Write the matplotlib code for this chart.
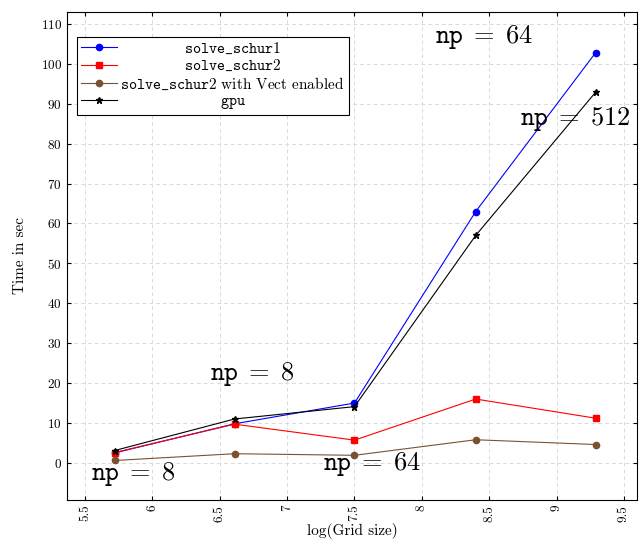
import numpy as np
import matplotlib
matplotlib.use("Agg")
import matplotlib.pyplot as plt

plt.rcParams['font.family'] = 'serif'
plt.rcParams['font.serif'] = ['cmr10']
plt.rcParams['mathtext.fontset'] = 'cm'
plt.rcParams['axes.formatter.use_mathtext'] = True

# data
grid_log = [5.72, 6.61, 7.50, 8.40, 9.29]
schur1 = [2.5, 9.8, 15.0, 63.0, 102.8]
schur2 = [2.6, 9.7, 5.7, 16.0, 11.2]
schur2_vect = [0.6, 2.3, 1.9, 5.8, 4.6]
gpu = [3.1, 11.0, 14.1, 57.0, 92.9]

labels = [r'$\mathtt{solve\_schur1}$',
          r'$\mathtt{solve\_schur2}$',
          r'$\mathtt{solve\_schur2}$ with Vect enabled',
          r'$\mathtt{gpu}$']

# annotations: (x, y, text)
notes = [(5.86, -2.8, r'$\mathtt{np}\;=\;8$'),
         (6.74, 22.4, r'$\mathtt{np}\;=\;8$'),
         (7.63, -0.3, r'$\mathtt{np}\;=\;64$'),
         (8.46, 106.8, r'$\mathtt{np}\;=\;64$'),
         (9.14, 86.2, r'$\mathtt{np}\;=\;512$')]

fig = plt.figure(figsize=(6.41, 5.43), dpi=100)
ax = fig.add_axes([0.1045, 0.0792, 0.889, 0.8987])

ax.plot(grid_log, schur1, '-o', color='blue', lw=0.8, ms=4.5, label=labels[0])
ax.plot(grid_log, schur2, '-s', color='red', lw=0.8, ms=4.5, label=labels[1])
ax.plot(grid_log, schur2_vect, '-o', color='#7b5230', lw=0.8, ms=4.5, label=labels[2])
ax.plot(grid_log, gpu, '-*', color='black', lw=0.8, ms=5, label=labels[3])

for x, y, t in notes:
    ax.text(x, y, t, fontsize=19, ha='center', va='center')

ax.set_xlim(5.366, 9.596)
ax.set_ylim(-9.3, 113)
ax.set_xticks(np.arange(5.5, 9.51, 0.5))
ax.set_xticklabels(['5.5', '6', '6.5', '7', '7.5', '8', '8.5', '9', '9.5'], rotation=90)
ax.set_yticks(np.arange(0, 111, 10))
ax.tick_params(direction='in', top=True, right=True, labelsize=9.5, length=3)
ax.grid(True, ls=(0, (4, 3)), color='#dadada', lw=0.7)
ax.set_axisbelow(True)
ax.set_xlabel('log(Grid size)', fontsize=11, labelpad=1)
ax.set_ylabel('Time in sec', fontsize=11, labelpad=10)

leg = ax.legend(loc='upper left', bbox_to_anchor=(0.0175, 0.949), fontsize=11,
                fancybox=False, framealpha=1, edgecolor='black', borderaxespad=0,
                handlelength=2.4, handletextpad=0.2, labelspacing=0.15, borderpad=0.25)
leg.get_frame().set_linewidth(0.8)

# center legend entries like pgfplots
fig.canvas.draw()
r = fig.canvas.get_renderer()
widths = [t.get_window_extent(r).width for t in leg.get_texts()]
W = max(widths)
for t, w in zip(leg.get_texts(), widths):
    t.set_x((W - w) / 2)

fig.savefig('out.png', dpi=100)
